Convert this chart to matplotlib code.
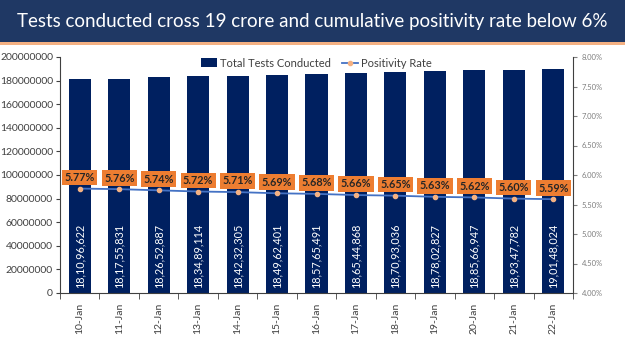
import matplotlib
matplotlib.use("Agg")
import matplotlib.pyplot as plt
from matplotlib.patches import Rectangle
from matplotlib.lines import Line2D
from matplotlib.ticker import FuncFormatter, FixedLocator
import numpy as np

dates = ["10-Jan", "11-Jan", "12-Jan", "13-Jan", "14-Jan", "15-Jan", "16-Jan",
         "17-Jan", "18-Jan", "19-Jan", "20-Jan", "21-Jan", "22-Jan"]
total_tests = [181096622, 181755831, 182652887, 183489114, 184232305, 184962401,
               185765491, 186544868, 187093036, 187802827, 188566947, 189347782,
               190148024]
test_labels = ["18,10,96,622", "18,17,55,831", "18,26,52,887", "18,34,89,114",
               "18,42,32,305", "18,49,62,401", "18,57,65,491", "18,65,44,868",
               "18,70,93,036", "18,78,02,827", "18,85,66,947", "18,93,47,782",
               "19,01,48,024"]
positivity = [5.77, 5.76, 5.74, 5.72, 5.71, 5.69, 5.68, 5.66, 5.65, 5.63, 5.62, 5.60, 5.59]

title = "Tests conducted cross 19 crore and cumulative positivity rate below 6%"

NAVY = "#002060"
ORANGE = "#ED7D31"
LINEBLUE = "#4472C4"

plt.rcParams['font.family'] = ['Lato', 'DejaVu Sans']

fig = plt.figure(figsize=(6.25, 3.51), dpi=100)
fig.patch.set_facecolor("white")

# title banner
fig.patches.append(Rectangle((0, 1 - 42/351), 1, 42/351, transform=fig.transFigure,
                             facecolor="#1F3864", edgecolor="none", zorder=0))
fig.patches.append(Rectangle((0, 1 - 45/351), 1, 3/351, transform=fig.transFigure,
                             facecolor="#F4B183", edgecolor="none", zorder=0))
fig.text(0.5, 1 - 21/351, title, color="white", fontsize=13.5, ha="center", va="center")

ax = fig.add_axes([60/625, 1 - 293/351, (573 - 60)/625, (293 - 57)/351])
x = np.arange(len(dates))
bars = ax.bar(x, total_tests, width=0.56, color=NAVY, zorder=2)
ax.set_xlim(-0.5, len(dates) - 0.5)
ax.set_ylim(0, 200000000)
ax.set_yticks(np.arange(0, 200000001, 20000000))
ax.yaxis.set_major_formatter(FuncFormatter(lambda v, p: f"{int(v)}"))
ax.tick_params(axis="y", labelsize=7.5, colors="#404040", length=3, direction="out", pad=2)
ax.set_xticks(x)
ax.set_xticklabels(dates, rotation=90, fontsize=7.5, color="#404040")
ax.xaxis.set_minor_locator(FixedLocator(np.arange(-0.5, len(dates), 1.0)))
ax.tick_params(axis="x", which="major", length=0, pad=7)
ax.tick_params(axis="x", which="minor", length=4, color="#404040")
for s in ["top", "right"]:
    ax.spines[s].set_visible(False)
ax.spines["left"].set_color("#404040")
ax.spines["bottom"].set_color("#404040")

for xi, lab in zip(x, test_labels):
    ax.text(xi, 4000000, lab, rotation=90, ha="center", va="bottom",
            color="white", fontsize=7.8, zorder=3)

ax2 = ax.twinx()
ax2.set_ylim(4.0, 8.0)
ax2.set_yticks(np.arange(4.0, 8.01, 0.5))
ax2.yaxis.set_major_formatter(FuncFormatter(lambda v, p: f"{v:.2f}%"))
ax2.tick_params(axis="y", labelsize=5.5, colors="#7f7f7f", length=3)
for s in ["top", "left", "bottom"]:
    ax2.spines[s].set_visible(False)
ax2.spines["right"].set_color("#404040")
ax2.plot(x, positivity, color=LINEBLUE, lw=1.3, marker="o", markersize=3,
         markerfacecolor="#F4B183", markeredgecolor="#F4B183", zorder=4)
for xi, p in zip(x, positivity):
    ax2.annotate(f"{p:.2f}%", (xi, p), xytext=(0, 8), textcoords="offset points",
                 ha="center", va="center", fontsize=7.8, fontweight="bold",
                 color="#262626",
                 bbox=dict(boxstyle="square,pad=0.22", facecolor=ORANGE,
                           edgecolor="none"), zorder=5)

handles = [Rectangle((0, 0), 1, 1, facecolor=NAVY),
           Line2D([0], [0], color=LINEBLUE, lw=1.3, marker="o", markersize=3,
                  markerfacecolor="#F4B183", markeredgecolor="#F4B183")]
leg = ax.legend(handles, ["Total Tests Conducted", "Positivity Rate"], ncol=2,
                loc="upper center", bbox_to_anchor=(0.5, 1.04), frameon=False,
                fontsize=8, handlelength=1.4, handletextpad=0.3, columnspacing=1.0,
                handleheight=0.8)
for t in leg.get_texts():
    t.set_color("#404040")

fig.savefig("out.png", dpi=100)
